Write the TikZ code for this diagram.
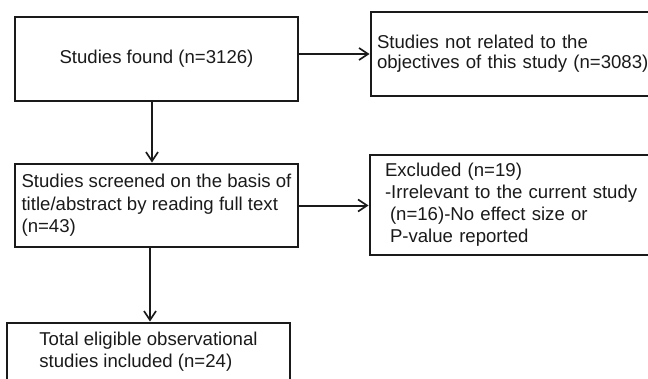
\documentclass[tikz,border=0pt]{standalone}
\usepackage{fontspec}
\setmainfont{Liberation Sans}
\usetikzlibrary{arrows.meta}
\definecolor{ink}{HTML}{1A1A1A}
\tikzset{
  box/.style={draw=ink, line width=2.8pt, rectangle, inner sep=0pt, text=ink,
    font=\fontsize{18.6}{22.5}\selectfont},
  arr/.style={draw=ink, line width=2pt, -{Straight Barb[length=9pt,width=12pt,line width=1.7pt]}}
}
\begin{document}
\begin{tikzpicture}[x=1pt,y=-1pt]
\useasboundingbox (0,0) rectangle (648,378);
\clip (0,0) rectangle (648,378);
\node[box, minimum width=283pt, minimum height=84pt] (box1) at (156.5,59) {Studies found (n=3126)};
\node[box, minimum width=283pt, minimum height=83pt, align=left] (box2) at (156.5,205.5)
  {Studies screened on the basis of\\title/abstract by reading full text\\(n=43)};
\node[box, minimum width=283pt, minimum height=57pt, align=left] (box3) at (148.5,351.5)
  {Total eligible observational\\studies included (n=24)};
\node[box, minimum width=289pt, minimum height=84pt, text width=277pt, inner xsep=6pt, align=left,
  font=\fontsize{18.6}{20}\selectfont] (r1) at (515.5,54)
  {Studies not related to the\\objectives of this study (n=3083)};
\node[box, minimum width=290pt, minimum height=100pt, text width=260pt, inner xsep=15pt, align=left,
  font=\fontsize{18.6}{22}\selectfont] (r2) at (515,205)
  {Excluded (n=19)\\-Irrelevant to the current study\\\hspace*{5pt}(n=16)-No effect size or\\\hspace*{5pt}P-value reported};
\draw[arr] (box1.east |- r1.west) -- (r1.west);
\draw[arr] (box2.east) -- (box2.east -| r2.west);
\draw[arr] ([xshift=-4.5pt]box1.south) -- ([xshift=-4.5pt]box1.south |- box2.north);
\draw[arr] ([xshift=-6.5pt]box2.south) -- ([xshift=-6.5pt]box2.south |- box3.north);
\end{tikzpicture}
\end{document}
